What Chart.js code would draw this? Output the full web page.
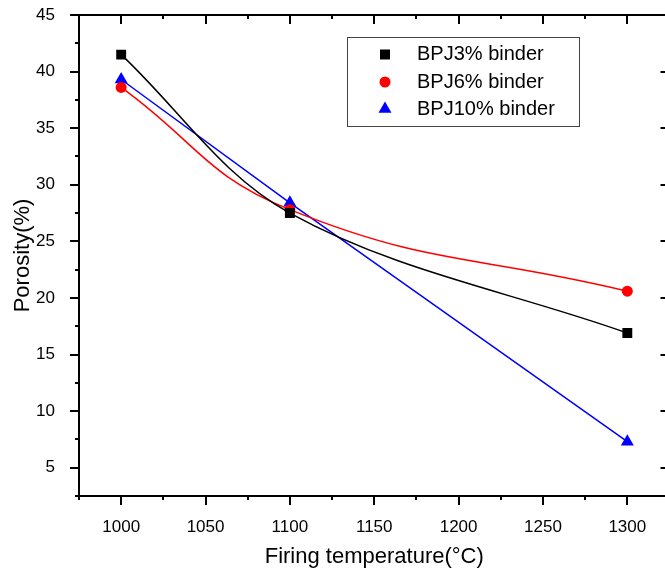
<!DOCTYPE html>
<html>
<head>
<meta charset="utf-8">
<script src="https://cdn.jsdelivr.net/npm/chart.js"></script>
<style>
  html, body { margin: 0; padding: 0; background: #fff; overflow: hidden; }
  #wrap { width: 665px; height: 574px; overflow: hidden; }
</style>
</head>
<body>
<div id="wrap"><canvas id="graf" width="677" height="574"></canvas></div>
<script>
// values
const temps = [1000, 1100, 1300]
const bpj3 = [41.5, 27.5, 16.9]
const bpj6 = [38.6, 27.8, 20.6]
const bpj10 = [39.3, 28.4, 7.3]
const seriesNames = ["BPJ3% binder", "BPJ6% binder", "BPJ10% binder"]
const xTicks = [1000, 1050, 1100, 1150, 1200, 1250, 1300]
const yTicks = [5, 10, 15, 20, 25, 30, 35, 40, 45]

const FONT = "'Liberation Sans', Arial, sans-serif"

function pts(vals) {
  return temps.map((t, i) => ({x: t, y: vals[i]}))
}

function marker(ctx, style, x, y, color) {
  ctx.fillStyle = color
  ctx.beginPath()
  if (style == "rect") {
    ctx.rect(x - 5, y - 5, 10, 10)
  } else if (style == "circle") {
    ctx.arc(x, y, 5.5, 0, Math.PI * 2)
  } else {
    const r = 7.5
    ctx.moveTo(x, y - r)
    ctx.lineTo(x + r * Math.sin(Math.PI * 2 / 3), y + r / 2)
    ctx.lineTo(x - r * Math.sin(Math.PI * 2 / 3), y + r / 2)
    ctx.closePath()
  }
  ctx.fill()
}

// box round the plot with major / minor ticks on all four sides
const frame = {
  id: "frame",
  beforeDatasetsDraw(chart) {
    const ctx = chart.ctx
    const a = chart.chartArea
    const x = chart.scales.x
    const y = chart.scales.y
    ctx.save()
    ctx.strokeStyle = "#000"
    ctx.lineWidth = 2
    ctx.strokeRect(a.left, a.top, a.right - a.left, a.bottom - a.top)
    ctx.beginPath()
    for (let k = 0; k <= 14; k++) {
      const v = 975 + k * 25
      const px = Math.round(x.getPixelForValue(v))
      const len = v % 50 == 0 ? 9 : 4
      ctx.moveTo(px, a.bottom)
      ctx.lineTo(px, a.bottom + len)
      ctx.moveTo(px, a.top)
      ctx.lineTo(px, a.top + len)
    }
    for (let k = 1; k <= 18; k++) {
      const v = k * 2.5
      const py = Math.round(y.getPixelForValue(v))
      const len = k % 2 == 0 ? 9 : 4
      ctx.moveTo(a.left, py)
      ctx.lineTo(a.left - len, py)
      ctx.moveTo(a.right, py)
      ctx.lineTo(a.right - len, py)
    }
    ctx.stroke()
    ctx.restore()
  }
}

const legendBox = {
  id: "legendBox",
  afterDatasetsDraw(chart) {
    const ctx = chart.ctx
    ctx.save()
    ctx.strokeStyle = "#444"
    ctx.lineWidth = 1
    ctx.strokeRect(347.5, 37.5, 232, 89)
    ctx.font = "20px " + FONT
    ctx.textBaseline = "middle"
    ctx.textAlign = "left"
    const rows = [54.5, 82, 109]
    chart.data.datasets.forEach((ds, i) => {
      marker(ctx, ds.pointStyle, 385, rows[i], ds.borderColor)
      ctx.fillStyle = "#000"
      ctx.fillText(ds.label, 417, rows[i])
    })
    ctx.restore()
  }
}

function noPad(s) {
  s.paddingTop = 0
  s.paddingBottom = 0
  s.paddingLeft = 0
  s.paddingRight = 0
}

new Chart(document.getElementById("graf"), {
  type: "line",
  data: {
    datasets: [
      {label: seriesNames[0], data: pts(bpj3), borderColor: "#000000", backgroundColor: "#000000",
       borderWidth: 1.5, tension: 0.35, pointStyle: "rect", pointRadius: 7, pointBorderWidth: 0},
      {label: seriesNames[1], data: pts(bpj6), borderColor: "#ff0000", backgroundColor: "#ff0000",
       borderWidth: 1.5, tension: 0.45, pointStyle: "circle", pointRadius: 5.5, pointBorderWidth: 0},
      {label: seriesNames[2], data: pts(bpj10), borderColor: "#0000ff", backgroundColor: "#0000ff",
       borderWidth: 1.5, tension: 0, pointStyle: "triangle", pointRadius: 7.5, pointBorderWidth: 0}
    ]
  },
  options: {
    responsive: false,
    animation: false,
    devicePixelRatio: 1,
    layout: {padding: {top: 15, right: 0, left: 0, bottom: 0}},
    plugins: {legend: {display: false}, tooltip: {enabled: false}},
    scales: {
      x: {
        type: "linear", min: 975, max: 1325,
        afterBuildTicks: s => { s.ticks = xTicks.map(v => ({value: v})) },
        afterFit: s => { s.height = 78; noPad(s) },
        grid: {display: false}, border: {display: false},
        ticks: {color: "#000", font: {family: FONT, size: 17}, padding: 13, maxRotation: 0,
                callback: v => String(v)},
        title: {display: true, text: "Firing temperature(°C)", color: "#000",
                font: {family: FONT, size: 22}, padding: {top: 4, bottom: 4}}
      },
      y: {
        type: "linear", min: 2.5, max: 45,
        afterBuildTicks: s => { s.ticks = yTicks.map(v => ({value: v})) },
        afterFit: s => { s.width = 79; noPad(s) },
        grid: {display: false}, border: {display: false},
        ticks: {color: "#000", font: {family: FONT, size: 17}, padding: 16,
                callback: v => String(v)},
        title: {display: true, text: "Porosity(%)", color: "#000",
                font: {family: FONT, size: 22}, padding: {top: 10, bottom: 4}}
      }
    }
  },
  plugins: [frame, legendBox]
})
</script>
</body>
</html>
